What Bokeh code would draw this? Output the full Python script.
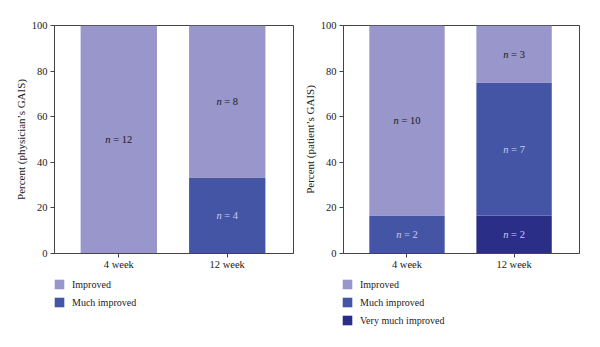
from bokeh.plotting import figure
from bokeh.models import ColumnDataSource, Legend, LegendItem, FixedTicker, Range1d
from bokeh.layouts import row, column
from bokeh.embed import file_html
from bokeh.resources import INLINE
from bokeh.core.properties import value

weeks = ["4 week", "12 week"]

# Physician's GAIS (counts per category)
phys_improved = [12, 8]
phys_much = [0, 4]

# Patient's GAIS (counts per category)
pat_improved = [10, 3]
pat_much = [2, 7]
pat_very = [0, 2]

C_IMP = "#9896ca"
C_MUCH = "#4455a6"
C_VERY = "#2b2e86"
TXT_DARK = "#1a1a1a"
TXT_LIGHT = "#c9cdea"
FONT = "Liberation Serif"
FS = "10.5px"


def char_w(s, fs=10.5):
    w = 0.0
    for ch in s:
        if ch == " ":
            w += 0.25
        elif ch == "=":
            w += 0.564
        else:
            w += 0.5
    return w * fs


def make_fig(series, colors, ylabel, left_border, right_border):
    totals = [sum(v) for v in zip(*series)]
    p = figure(width=300, height=275, x_range=Range1d(-0.593, 1.611), y_range=Range1d(0, 100),
               output_backend="svg", toolbar_location=None,
               min_border_left=left_border, min_border_right=right_border,
               min_border_top=25, min_border_bottom=22)
    p.grid.visible = False
    p.outline_line_color = "#444444"
    p.outline_line_width = 1
    p.background_fill_color = "white"
    p.border_fill_color = "white"

    xs = list(range(len(weeks)))
    bottoms = [0.0] * len(weeks)
    txt_x, txt_y, txt_rest, txt_col, off_n, off_r = [], [], [], [], [], []
    for vals, col in zip(series, colors):
        pct = [100.0 * v / t for v, t in zip(vals, totals)]
        tops = [b + q for b, q in zip(bottoms, pct)]
        src = ColumnDataSource(dict(x=xs, bottom=bottoms, top=tops))
        p.vbar(x="x", width=0.704, bottom="bottom", top="top", source=src,
               fill_color=col, line_color=None)
        for i, v in enumerate(vals):
            if v > 0:
                rest = "= %d" % v
                W = char_w("n ") + char_w(rest)
                b = -W / 2 + char_w("n")
                txt_x.append(xs[i])
                txt_y.append((bottoms[i] + tops[i]) / 2)
                txt_rest.append(rest)
                txt_col.append(TXT_DARK if col == C_IMP else TXT_LIGHT)
                off_n.append(b)
                off_r.append(b + char_w(" "))
        bottoms = tops

    tsrc = ColumnDataSource(dict(x=txt_x, y=txt_y, n=["n"] * len(txt_x), rest=txt_rest,
                                 c=txt_col, on=off_n, orr=off_r))
    p.text(x="x", y="y", text="n", source=tsrc, text_color="c", text_font=value(FONT),
           text_font_size=FS, text_font_style="italic", text_align="right",
           text_baseline="middle", x_offset="on")
    p.text(x="x", y="y", text="rest", source=tsrc, text_color="c", text_font=value(FONT),
           text_font_size=FS, text_align="left", text_baseline="middle", x_offset="orr")

    p.xaxis.ticker = FixedTicker(ticks=xs)
    p.xaxis.major_label_overrides = {i: w for i, w in enumerate(weeks)}
    p.xaxis.minor_tick_line_color = None
    p.yaxis.ticker = FixedTicker(ticks=[0, 20, 40, 60, 80, 100])
    p.yaxis.minor_tick_line_color = None
    for ax in (p.xaxis, p.yaxis):
        ax.axis_line_color = "#444444"
        ax.major_tick_line_color = "#444444"
        ax.major_tick_in = 0
        ax.major_tick_out = 4
        ax.major_label_text_font = FONT
        ax.major_label_text_font_size = FS
        ax.major_label_text_color = "#1a1a1a"
        ax.major_label_standoff = 3
    p.xaxis.major_label_standoff = 1
    p.yaxis.axis_label = ylabel
    p.yaxis.axis_label_text_font = FONT
    p.yaxis.axis_label_text_font_size = "11px"
    p.yaxis.axis_label_text_font_style = "normal"
    p.yaxis.axis_label_text_color = "#1a1a1a"
    p.yaxis.axis_label_standoff = 2
    return p


p1 = make_fig([phys_much, phys_improved], [C_MUCH, C_IMP],
              "Percent (physician\u2019s GAIS)", 54, 7)
p2 = make_fig([pat_very, pat_much, pat_improved], [C_VERY, C_MUCH, C_IMP],
              "Percent (patient\u2019s GAIS)", 40, 21)

# Legend strip below both charts (swatch renderers sit outside the visible range)
lf = figure(width=600, height=72, x_range=Range1d(0, 1), y_range=Range1d(0, 1),
            output_backend="svg", toolbar_location=None,
            min_border=0, min_border_left=0, min_border_right=0,
            min_border_top=0, min_border_bottom=0)
lf.axis.visible = False
lf.grid.visible = False
lf.outline_line_color = None
offscreen = ColumnDataSource(dict(x=[10], top=[10]))


def make_legend(names, colors, loc):
    items = []
    for nm, col in zip(names, colors):
        r = lf.vbar(x="x", top="top", bottom=9, width=0.1, source=offscreen,
                    fill_color=col, line_color=None)
        items.append(LegendItem(label=nm, renderers=[r]))
    leg = Legend(items=items, location=loc, orientation="vertical",
                 glyph_width=12, glyph_height=12, label_height=12, spacing=6,
                 label_standoff=7, padding=0, margin=0,
                 border_line_alpha=0, background_fill_alpha=0,
                 label_text_font=FONT, label_text_font_size="10px",
                 label_text_color="#1a1a1a", label_text_baseline="middle")
    lf.add_layout(leg, "center")


make_legend(["Improved", "Much improved"], [C_IMP, C_MUCH], (53, 39))
make_legend(["Improved", "Much improved", "Very much improved"], [C_IMP, C_MUCH, C_VERY], (341, 21))

layout = column(row(p1, p2), lf)
open("out.html", "w").write(file_html(layout, INLINE))
